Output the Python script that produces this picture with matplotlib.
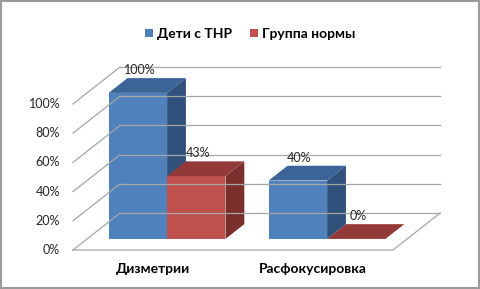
import numpy as np
import matplotlib.pyplot as plt
from matplotlib.patches import Polygon, Patch, Rectangle

plt.rcParams['font.family'] = ['Lato', 'DejaVu Sans']

# Data
categories = ["Дизметрии", "Расфокусировка"]
series_names = ["Дети с ТНР", "Группа нормы"]
thr_values = [100, 40]
norm_values = [43, 0]
ticks = [0, 20, 40, 60, 80, 100]

# colours: front, top, side
blue = ("#4F81BD", "#3C6597", "#30517A")
red = ("#C0504D", "#933A38", "#7A2F2D")

# oblique "3D" projection in data units (x: category, y: percent)
depth_x, depth_y = 0.294, 25.3
f_front, f_back = 0.3, 0.7
bar_w = 0.365

fig = plt.figure(figsize=(4.81, 2.89), dpi=100)
ax = fig.add_axes([0, 0, 1, 1])
ax.set_xlim(-0.456, 2.55)
ax.set_ylim(-26.7, 171.2)
ax.axis("off")

grid_c = "#a6a6a6"
n = len(categories)
# back wall and left wall gridlines
for t in ticks:
    ax.plot([depth_x, n + depth_x], [t + depth_y, t + depth_y], color=grid_c, lw=0.9)
    ax.plot([0, depth_x], [t, t + depth_y], color=grid_c, lw=0.9)
    ax.text(-0.08, t, f"{t}%", ha="right", va="center", fontsize=9, color="#262626")
# floor
ax.plot([0, n, n + depth_x], [0, 0, depth_y], color=grid_c, lw=0.9)


def draw_bar(x0, val, cols):
    fx, fy = f_front * depth_x, f_front * depth_y
    dx, dy = (f_back - f_front) * depth_x, (f_back - f_front) * depth_y
    x1 = x0 + bar_w
    front = [(x0 + fx, fy), (x1 + fx, fy), (x1 + fx, val + fy), (x0 + fx, val + fy)]
    top = [(x0 + fx, val + fy), (x1 + fx, val + fy), (x1 + fx + dx, val + fy + dy), (x0 + fx + dx, val + fy + dy)]
    side = [(x1 + fx, fy), (x1 + fx + dx, fy + dy), (x1 + fx + dx, val + fy + dy), (x1 + fx, val + fy)]
    ax.add_patch(Polygon(front, closed=True, facecolor=cols[0], edgecolor="none"))
    ax.add_patch(Polygon(side, closed=True, facecolor=cols[2], edgecolor="none"))
    ax.add_patch(Polygon(top, closed=True, facecolor=cols[1], edgecolor="none"))
    ax.text(x0 + bar_w / 2 + fx + 0.01, val + f_back * depth_y + 5.5, f"{val}%",
            ha="center", va="center", fontsize=9, color="#262626")


for i in range(n):
    c = i + 0.5
    draw_bar(c - bar_w, thr_values[i], blue)
    draw_bar(c, norm_values[i], red)
    ax.text(c, -13, categories[i], ha="center", va="center", fontsize=10,
            fontweight="bold", color="#000000")

handles = [Patch(facecolor=blue[0]), Patch(facecolor=red[0])]
fig.legend(handles, series_names, loc="center", bbox_to_anchor=(0.52, 0.882), ncol=2,
           frameon=False, prop={"weight": "bold", "size": 10},
           handlelength=0.55, handleheight=0.55, handletextpad=0.3, columnspacing=1.3)

fig.add_artist(Rectangle((0.002, 0.003), 0.994, 0.992, transform=fig.transFigure,
                         fill=False, edgecolor="#9a9a9a", lw=1.5))

fig.savefig("out.png", dpi=100)
